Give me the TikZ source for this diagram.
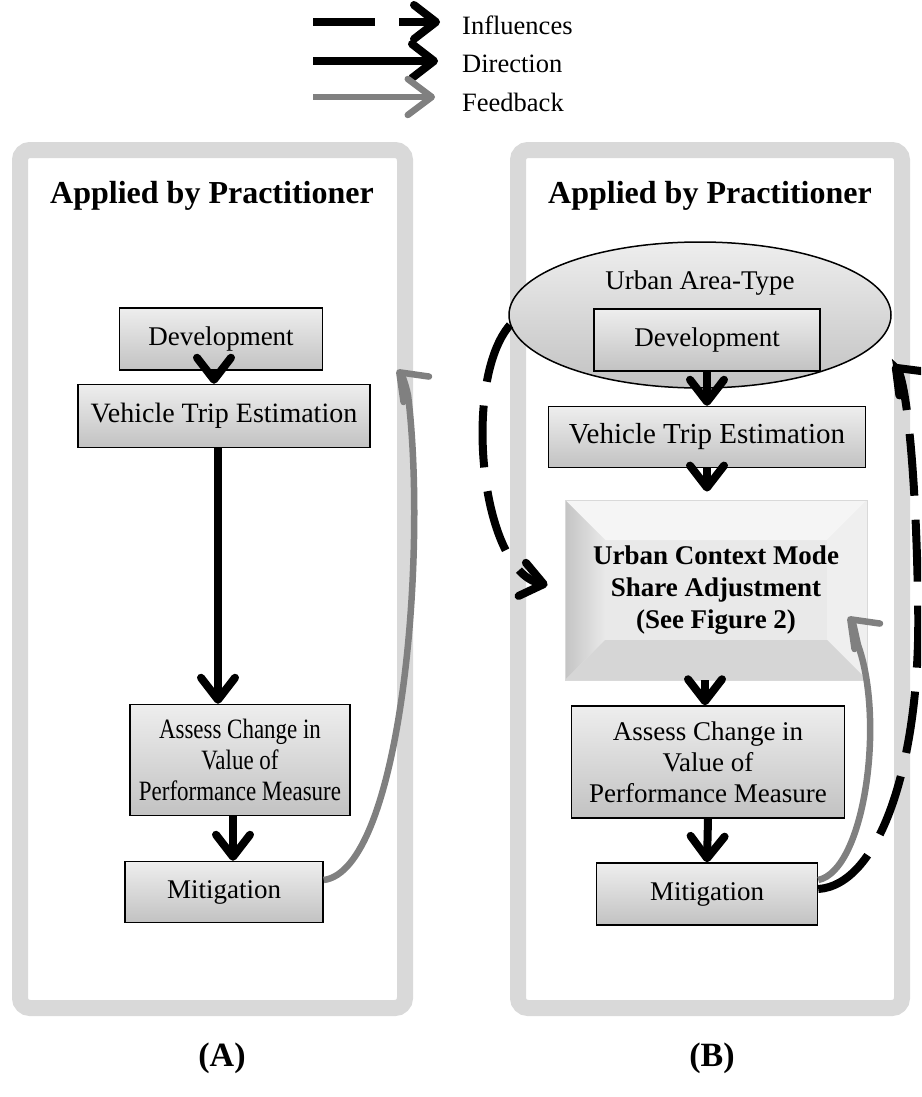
\documentclass[tikz,border=0pt]{standalone}
\usepackage{fontspec}
\setmainfont{Liberation Serif}
\newfontfamily\narrowserif{Liberation Serif}[FakeStretch=0.82]
\usetikzlibrary{arrows.meta,shapes.geometric,calc}

\definecolor{panelgray}{RGB}{217,217,217}
\definecolor{boxtop}{RGB}{238,238,238}
\definecolor{boxbot}{RGB}{194,194,194}
\definecolor{fbgray}{RGB}{128,128,128}
\definecolor{bevface}{RGB}{233,233,233}
\definecolor{bevtop}{RGB}{245,245,245}
\definecolor{bevdark}{RGB}{196,196,196}
\definecolor{bevright}{RGB}{239,239,239}
\definecolor{bevbot}{RGB}{214,214,214}

\tikzset{
  panel/.style={draw=panelgray, line width=16pt, rounded corners=10pt},
  paneltitle/.style={font=\fontsize{32}{38}\selectfont\bfseries},
  caption/.style={font=\fontsize{34}{40}\selectfont\bfseries},
  stepbox/.style={draw=black, line width=1.5pt, top color=boxtop, bottom color=boxbot,
    align=center, inner sep=0pt, font=\fontsize{27}{31}\selectfont},
  areashape/.style={ellipse, draw=black, line width=1.5pt, top color=boxtop, bottom color=boxbot,
    minimum width=382pt, minimum height=146pt, inner sep=0pt},
  bevelbox/.style={draw=gray!30, line width=0.8pt, fill=bevface, align=center, inner sep=0pt,
    font=\fontsize{27}{32}\selectfont\bfseries,
    path picture={
      \path (path picture bounding box.north west) coordinate (bnw)
            (path picture bounding box.north east) coordinate (bne)
            (path picture bounding box.south west) coordinate (bsw)
            (path picture bounding box.south east) coordinate (bse);
      \fill[bevtop] (bnw) -- (bne) -- ($(bne)+(-40pt,-40pt)$) -- ($(bnw)+(40pt,-40pt)$) -- cycle;
      \shade[left color=bevdark, right color=bevface] (bnw) -- ($(bnw)+(40pt,-40pt)$)
        -- ($(bsw)+(40pt,40pt)$) -- (bsw) -- cycle;
      \fill[bevright] (bne) -- (bse) -- ($(bse)+(-40pt,40pt)$) -- ($(bne)+(-40pt,-40pt)$) -- cycle;
      \fill[bevbot] (bsw) -- (bse) -- ($(bse)+(-40pt,40pt)$) -- ($(bsw)+(40pt,40pt)$) -- cycle;
    }},
  direction/.style={line width=8pt, -{Straight Barb[length=22pt,width=34pt,round]}},
  influence/.style={direction, dash pattern=on 62pt off 24pt},
  feedback/.style={draw=fbgray, line width=6.5pt, -{Straight Barb[length=24pt,width=36pt,round]}},
  legtext/.style={font=\fontsize{26.5}{30}\selectfont, anchor=west, inner sep=0pt},
}

\begin{document}
\begin{tikzpicture}[x=1pt, y=-1pt]
  \useasboundingbox (0,0) rectangle (921,1097);
  \clip (0,0) rectangle (921,1097);

  % legend
  \coordinate (infstart) at (313,22);
  \coordinate (dirstart) at (313,61);
  \coordinate (fbstart) at (313,97);
  \node[legtext] (inf) at (462,25) {Influences};
  \node[legtext] (dir) at (462,64) {Direction};
  \node[legtext] (fb) at (462,102) {Feedback};
  \draw[influence] (infstart) -- ([xshift=-22pt]inf.west |- infstart);
  \draw[direction] (dirstart) -- ([xshift=-24pt]dir.west |- dirstart);
  \draw[feedback] (fbstart) -- ([xshift=-27pt]fb.west |- fbstart);

  % panels
  \draw[panel] (20,150) rectangle (405,1008);
  \draw[panel] (518,150) rectangle (902,1008);
  \node[paneltitle] (titA) at (212,196) {Applied by Practitioner};
  \node[paneltitle] (titB) at (710,196) {Applied by Practitioner};

  % (A)
  \node[stepbox, minimum width=203pt, minimum height=62pt] (devA) at (221,339) {Development};
  \node[stepbox, minimum width=292pt, minimum height=63pt, font=\fontsize{28}{31}\selectfont]
    (tripA) at (224,416) {Vehicle Trip Estimation};
  \node[stepbox, minimum width=220pt, minimum height=111pt, font=\narrowserif\fontsize{28}{31}\selectfont]
    (assessA) at (240,760) {Assess Change in\\Value of\\Performance Measure};
  \node[stepbox, minimum width=198pt, minimum height=61pt] (mitA) at (224,892) {Mitigation};

  \draw[direction] ([xshift=-7pt]devA.south) -- ([xshift=-7pt]devA.south |- tripA.north);
  \draw[direction] ([xshift=-6pt]tripA.south) -- ([xshift=-6pt]tripA.south |- assessA.north);
  \draw[direction] ([xshift=-7pt]assessA.south) -- ([xshift=-7pt]assessA.south |- mitA.north);
  \draw[feedback] ([yshift=12pt]mitA.east) .. controls (400,870) and (428,560) .. (408,395)
    .. controls (405,382) and (402,375) .. (397,370);

  % (B)
  \node[areashape] (area) at (700,315) {};
  \node[font=\fontsize{27}{30}\selectfont] (areatxt) at (700,283) {Urban Area-Type};
  \node[stepbox, minimum width=226pt, minimum height=62pt] (devB) at (707,340) {Development};
  \node[stepbox, minimum width=317pt, minimum height=61pt, font=\fontsize{29}{31}\selectfont]
    (tripB) at (707,437) {Vehicle Trip Estimation};
  \node[bevelbox, minimum width=302pt, minimum height=180pt] (share) at (716,590)
    {Urban Context Mode\\Share Adjustment\\(See Figure 2)};
  \node[stepbox, minimum width=273pt, minimum height=112pt] (assessB) at (708,762)
    {Assess Change in\\Value of\\Performance Measure};
  \node[stepbox, minimum width=221pt, minimum height=62pt] (mitB) at (707,894) {Mitigation};

  \draw[direction] (devB.south) -- (tripB.north);
  \draw[direction] (tripB.south) -- ([yshift=8pt]tripB.south |- share.north);
  \draw[direction] ([xshift=-11pt]share.south) -- ([xshift=-11pt]share.south |- assessB.north);
  \draw[direction] (assessB.south) -- (mitB.north);

  \draw[influence] (area.183) .. controls (462,380) and (480,570) .. ([xshift=-17pt,yshift=5pt]share.west);
  \draw[feedback] ([yshift=14pt]mitB.east) .. controls (865,870) and (885,720) .. (858,645)
    .. controls (855,632) and (853,622) .. (848,617);
  \draw[influence] ([yshift=5pt]mitB.east) .. controls (880,885) and (922,760) .. (918,600)
    .. controls (916,480) and (908,400) .. (900,375) .. controls (898,370) and (897,369) .. (893,365);

  \node[caption] (capA) at (222,1058) {(A)};
  \node[caption] (capB) at (712,1058) {(B)};
\end{tikzpicture}
\end{document}
